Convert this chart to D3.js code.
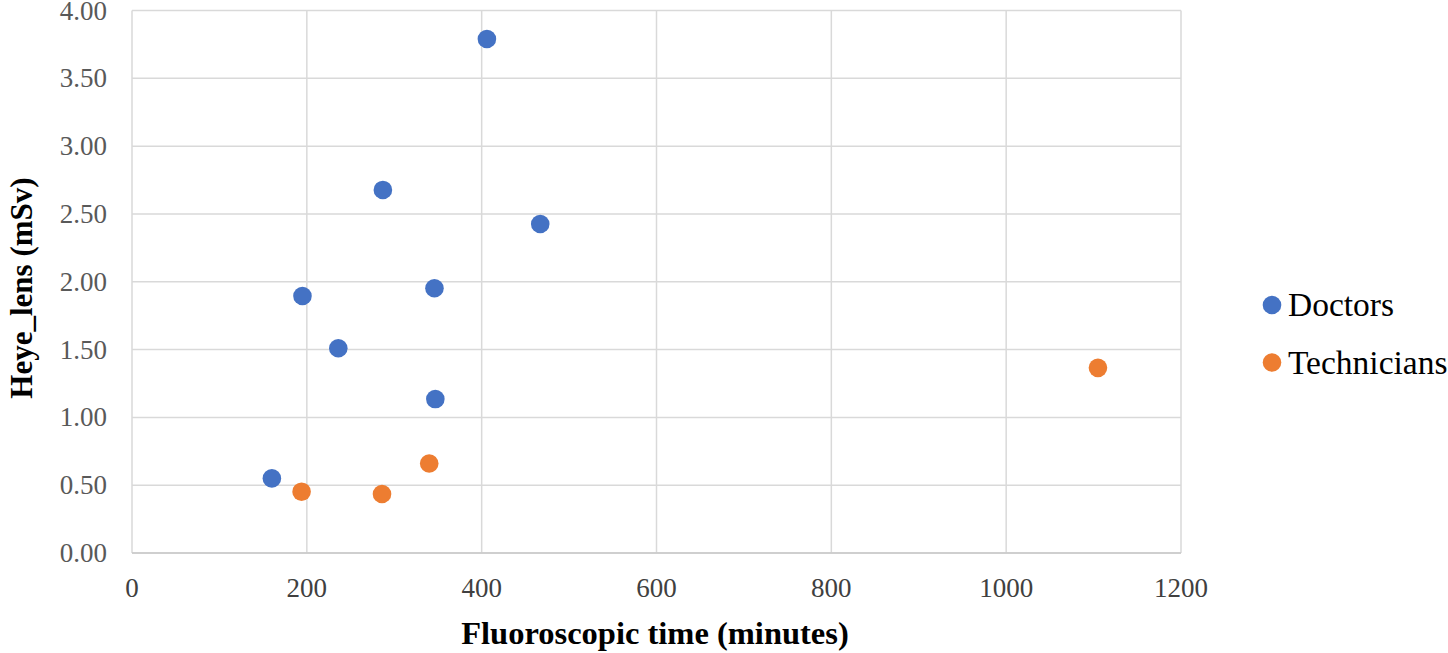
<!DOCTYPE html>
<html>
<head>
<meta charset="utf-8">
<script src="https://cdn.jsdelivr.net/npm/d3@7"></script>
<style>
  body { margin: 0; background: #fff; }
  text { font-family: "Liberation Serif", "Times New Roman", serif; }
</style>
</head>
<body>
<div id="chart"></div>
<script>
// Data
let doctorsTime = [160, 195, 236, 287, 346, 347, 406, 467];
let doctorsDose = [0.55, 1.895, 1.51, 2.677, 1.952, 1.135, 3.79, 2.426];
let techTime = [194, 286, 340, 1105];
let techDose = [0.452, 0.435, 0.66, 1.365];
let xTicks = [0, 200, 400, 600, 800, 1000, 1200];
let yTicks = [0, 0.5, 1, 1.5, 2, 2.5, 3, 3.5, 4];
let seriesNames = ['Doctors', 'Technicians'];
let seriesColors = ['#4472C4', '#ED7D31'];

let width = 1448;
let height = 653;
let margin = { left: 132, right: 1448 - 1181, top: 10.5, bottom: 653 - 553 };

let svg = d3.select('#chart')
    .append('svg')
    .attr('width', width)
    .attr('height', height);

let x = d3.scaleLinear()
    .domain([0, 1200])
    .range([margin.left, width - margin.right]);

let y = d3.scaleLinear()
    .domain([0, 4])
    .range([height - margin.bottom, margin.top]);

// Grid lines
svg.append('g')
    .selectAll('line')
    .data(yTicks)
    .enter()
    .append('line')
    .attr('x1', x(0))
    .attr('x2', x(1200))
    .attr('y1', d => y(d))
    .attr('y2', d => y(d))
    .attr('stroke', '#d9d9d9')
    .attr('stroke-width', 1.5);

svg.append('g')
    .selectAll('line')
    .data(xTicks)
    .enter()
    .append('line')
    .attr('x1', d => x(d))
    .attr('x2', d => x(d))
    .attr('y1', y(0))
    .attr('y2', y(4))
    .attr('stroke', '#d9d9d9')
    .attr('stroke-width', 1.5);

// Axis lines slightly darker
svg.append('line')
    .attr('x1', x(0)).attr('x2', x(1200))
    .attr('y1', y(0)).attr('y2', y(0))
    .attr('stroke', '#c8c8c8').attr('stroke-width', 1.5);

// Tick labels
svg.append('g')
    .selectAll('text')
    .data(yTicks)
    .enter()
    .append('text')
    .attr('x', 107)
    .attr('y', d => y(d) + 9)
    .attr('text-anchor', 'end')
    .attr('font-size', 27)
    .attr('fill', '#595959')
    .text(d => d3.format('.2f')(d));

svg.append('g')
    .selectAll('text')
    .data(xTicks)
    .enter()
    .append('text')
    .attr('x', d => x(d))
    .attr('y', 597)
    .attr('text-anchor', 'middle')
    .attr('font-size', 27)
    .attr('fill', '#404040')
    .text(d => d);

// Axis titles
svg.append('text')
    .attr('x', 655)
    .attr('y', 644)
    .attr('text-anchor', 'middle')
    .attr('font-size', 32.5)
    .attr('font-weight', 'bold')
    .attr('fill', '#000')
    .text('Fluoroscopic time (minutes)');

svg.append('text')
    .attr('transform', 'translate(32,288) rotate(-90)')
    .attr('text-anchor', 'middle')
    .attr('font-size', 31)
    .attr('font-weight', 'bold')
    .attr('fill', '#000')
    .text('Heye_lens (mSv)');

// Points
let series = [
    { times: doctorsTime, doses: doctorsDose },
    { times: techTime, doses: techDose }
];

series.forEach(function(s, i) {
    svg.append('g')
        .selectAll('circle')
        .data(s.times)
        .enter()
        .append('circle')
        .attr('cx', d => x(d))
        .attr('cy', (d, j) => y(s.doses[j]))
        .attr('r', 9.3)
        .attr('fill', seriesColors[i]);
});

// Legend
let legend = svg.append('g')
    .selectAll('g')
    .data(seriesNames)
    .enter()
    .append('g')
    .attr('transform', (d, i) => 'translate(1272,' + (305 + i * 57.5) + ')');

legend.append('circle')
    .attr('r', 9.3)
    .attr('fill', (d, i) => seriesColors[i]);

legend.append('text')
    .attr('x', 16)
    .attr('y', 11)
    .attr('font-size', 33.5)
    .attr('fill', '#000')
    .text(d => d);
</script>
</body>
</html>
